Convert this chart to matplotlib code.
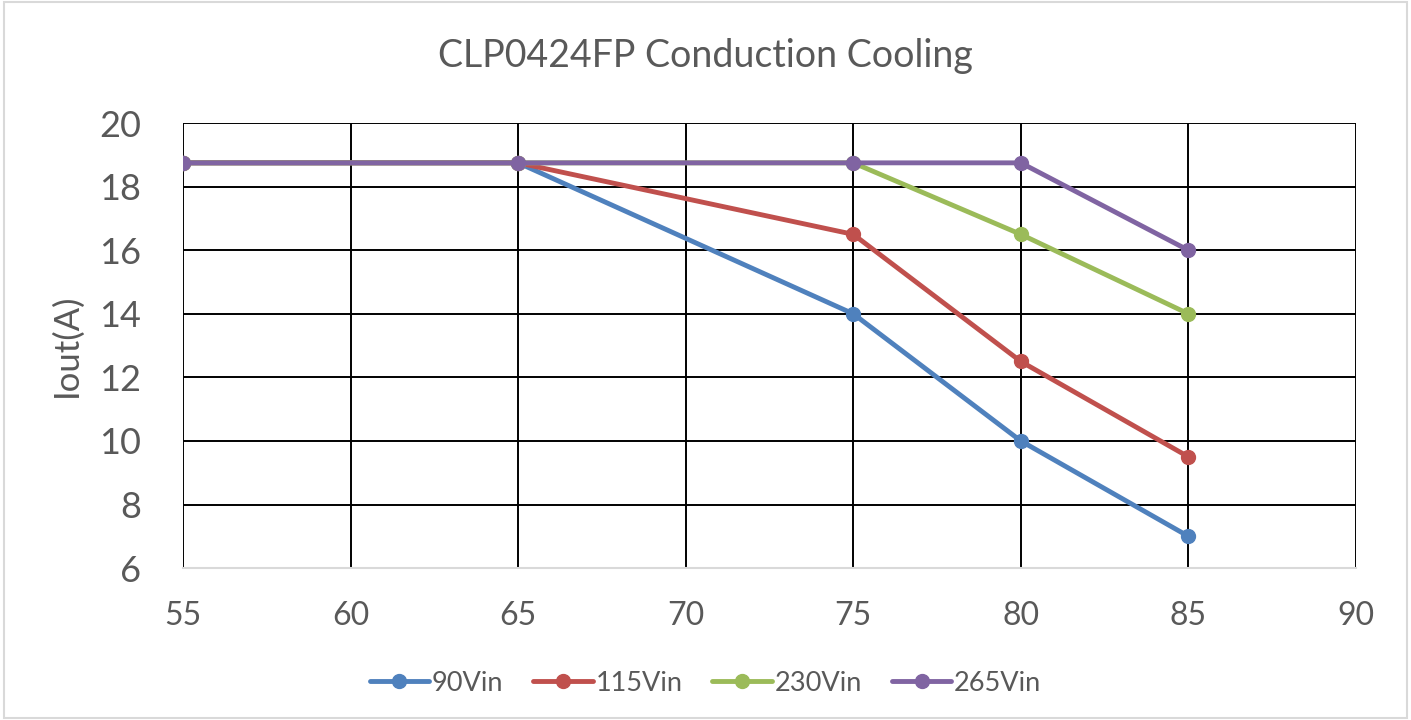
import matplotlib
matplotlib.use("Agg")
import matplotlib.pyplot as plt

plt.rcParams["font.family"] = ["Lato", "DejaVu Sans"]

temps = [55, 65, 75, 80, 85]
iout_90 = [18.75, 18.75, 14, 10, 7]
iout_115 = [18.75, 18.75, 16.5, 12.5, 9.5]
iout_230 = [18.75, 18.75, 18.75, 16.5, 14]
iout_265 = [18.75, 18.75, 18.75, 18.75, 16]

series = [
    ("90Vin", iout_90, "#4F81BD"),
    ("115Vin", iout_115, "#C0504D"),
    ("230Vin", iout_230, "#9BBB59"),
    ("265Vin", iout_265, "#8064A2"),
]

fig = plt.figure(figsize=(14.11, 7.2), dpi=100)
ax = fig.add_axes([0.1297, 0.211, 0.8313, 0.618])

for name, vals, col in series:
    ax.plot(temps, vals, color=col, linewidth=3.5, marker="o", markersize=10,
            label=name, solid_capstyle="round")

ax.set_xlim(55, 90)
ax.set_ylim(6, 20)
ax.set_xticks(range(55, 91, 5))
ax.set_yticks(range(6, 21, 2))
ax.grid(True, color="black", linewidth=1.4)
ax.set_axisbelow(True)
for s in ["top", "right", "left"]:
    ax.spines[s].set_visible(False)
ax.spines["bottom"].set_color("#D9D9D9")
ax.spines["bottom"].set_linewidth(1.5)
ax.tick_params(length=0, colors="#595959", labelsize=23, pad=24)
ax.tick_params(axis="y", labelsize=26, pad=30)

ax.set_ylabel("Iout(A)", fontsize=25, color="#595959", labelpad=12)
fig.suptitle("CLP0424FP Conduction Cooling", fontsize=27, color="#595959", y=0.947)

fig.legend(loc="lower center", ncol=4, frameon=False, fontsize=19.5,
           bbox_to_anchor=(0.5, 0.0), handlelength=2.2, handletextpad=0.1,
           columnspacing=1.1, labelcolor="#595959")

border = plt.Rectangle((0.003, 0.003), 0.994, 0.994, transform=fig.transFigure,
                       fill=False, edgecolor="#D9D9D9", linewidth=1.5)
fig.patches.append(border)

fig.savefig("out.png", dpi=100)
